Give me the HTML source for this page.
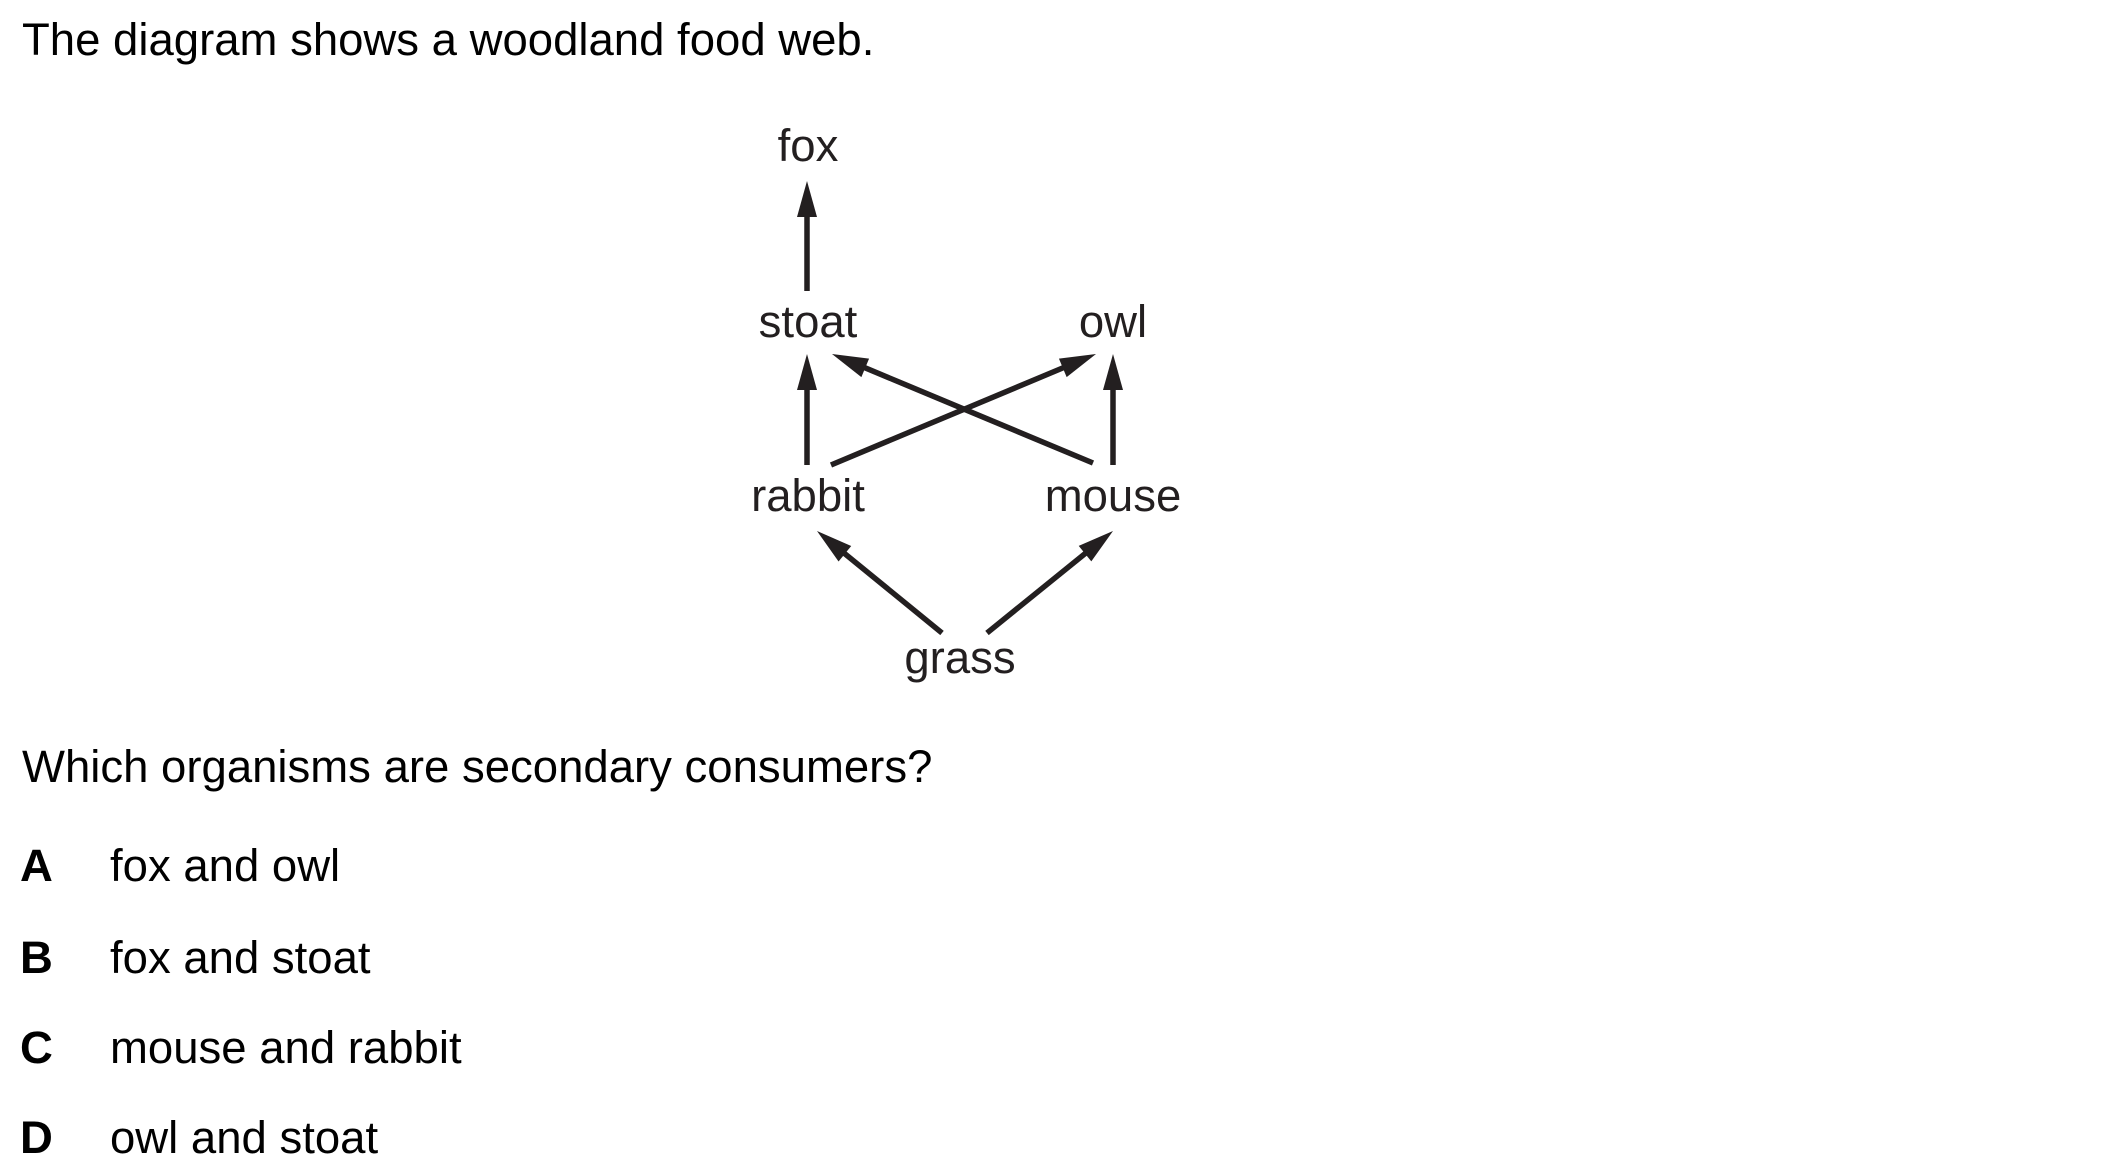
<!DOCTYPE html>
<html>
<head>
<meta charset="utf-8">
<style>
  html, body { margin: 0; padding: 0; background: #fff; }
  body { width: 2101px; height: 1167px; overflow: hidden; position: relative;
         font-family: "Liberation Sans", Arial, sans-serif; color: #000; }
  .t { position: absolute; font-size: 45.5px; line-height: 1; white-space: nowrap; }
  .lbl { position: absolute; font-size: 45.5px; font-weight: bold; line-height: 1; }
  svg { position: absolute; left: 0; top: 0; }
</style>
</head>
<body>
<div class="t" style="left:22px; top:17px;">The diagram shows a woodland food web.</div>

<svg id="web" width="2101" height="1167"></svg>

<div class="t" style="left:22px; top:744px;">Which organisms are secondary consumers?</div>

<div>
  <div class="lbl" style="left:20px; top:843px;">A</div>
  <div class="t" style="left:110px; top:843px;">fox and owl</div>
</div>
<div>
  <div class="lbl" style="left:20px; top:935px;">B</div>
  <div class="t" style="left:110px; top:935px;">fox and stoat</div>
</div>
<div>
  <div class="lbl" style="left:20px; top:1025px;">C</div>
  <div class="t" style="left:110px; top:1025px;">mouse and rabbit</div>
</div>
<div>
  <div class="lbl" style="left:20px; top:1115px;">D</div>
  <div class="t" style="left:110px; top:1115px;">owl and stoat</div>
</div>

<script>
const organisms = ["fox", "stoat", "owl", "rabbit", "mouse", "grass"];
const organismX = [808, 808, 1113, 808, 1113, 960];
const organismY = [161, 337, 337, 511, 511, 673];
const linkFrom = ["stoat", "rabbit", "mouse", "rabbit", "mouse", "grass", "grass"];
const linkTo   = ["fox", "stoat", "owl", "owl", "stoat", "rabbit", "mouse"];
const linkStart = [[807,291],[807,465],[1113,465],[831,465],[1093,463],[942,633],[987,633]];
const linkEnd   = [[807,181],[807,354],[1113,354],[1096,354],[832,354],[817,531],[1113,531]];

const NS = "http://www.w3.org/2000/svg";
const svg = document.getElementById("web");
const ink = "#231f20";

for (let i = 0; i < organisms.length; i++) {
  const t = document.createElementNS(NS, "text");
  t.setAttribute("x", organismX[i]);
  t.setAttribute("y", organismY[i]);
  t.setAttribute("text-anchor", "middle");
  t.setAttribute("font-family", "Liberation Sans, Arial, sans-serif");
  t.setAttribute("font-size", "45.5");
  t.setAttribute("fill", ink);
  t.textContent = organisms[i];
  
  
  svg.appendChild(t);
}

for (let i = 0; i < linkFrom.length; i++) {
  const [x1, y1] = linkStart[i];
  const [x2, y2] = linkEnd[i];
  const dx = x2 - x1, dy = y2 - y1;
  const len = Math.hypot(dx, dy);
  const ux = dx / len, uy = dy / len;
  const headL = 36, headW = 10;
  const bx = x2 - ux * headL, by = y2 - uy * headL;
  const g = document.createElementNS(NS, "g");
  
  
  const ln = document.createElementNS(NS, "line");
  ln.setAttribute("x1", x1); ln.setAttribute("y1", y1);
  ln.setAttribute("x2", bx + ux * 4); ln.setAttribute("y2", by + uy * 4);
  ln.setAttribute("stroke", ink);
  ln.setAttribute("stroke-width", "5.5");
  g.appendChild(ln);
  const p = document.createElementNS(NS, "polygon");
  const px = -uy, py = ux;
  p.setAttribute("points",
    x2 + "," + y2 + " " +
    (bx + px * headW) + "," + (by + py * headW) + " " +
    (bx - px * headW) + "," + (by - py * headW));
  p.setAttribute("fill", ink);
  g.appendChild(p);
  svg.appendChild(g);
}
</script>
</body>
</html>
